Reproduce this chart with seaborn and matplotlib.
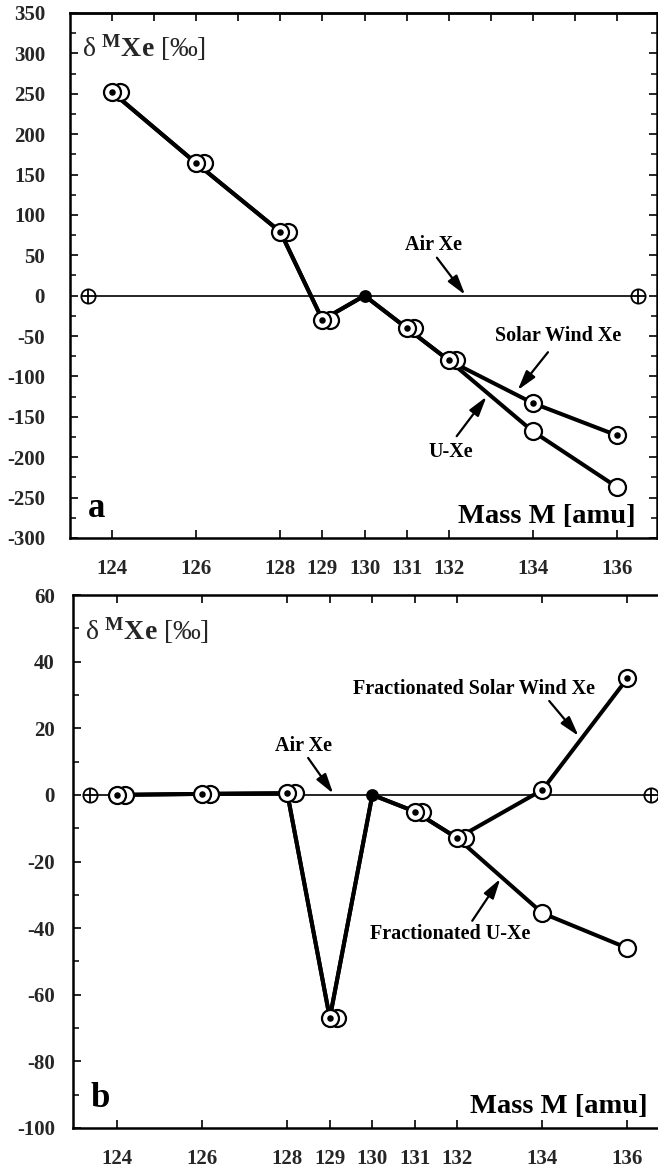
import numpy as np
import matplotlib
matplotlib.use("Agg")
import matplotlib.pyplot as plt
import seaborn as sns

# Xe isotope masses (amu)
mass = [124, 126, 128, 129, 130, 131, 132, 134, 136]
mass_labels = ["124", "126", "128", "129", "130", "131", "132", "134", "136"]
ref_mass = 130

# Panel a: delta-values relative to air Xe (permil)
sw_a = [252, 164, 79, -30, 0, -40, -80, -133, -173]
u_a = [252, 164, 79, -30, 0, -40, -80, -168, -237]

# Panel b: after mass fractionation
sw_b = [0, 0.3, 0.5, -67, 0, -5, -13, 1.5, 35]
u_b = [0, 0.3, 0.5, -67, 0, -5, -13, -35.5, -46]

# Air Xe reference line end points
air_a_mass = [123.43, 136.5]
air_b_mass = [123.36, 136.55]
air_val = [0, 0]

sns.set_theme(style="ticks")
plt.rcParams["font.family"] = ["Liberation Serif", "DejaVu Serif"]
plt.rcParams["mathtext.fontset"] = "custom"
plt.rcParams["mathtext.rm"] = "Liberation Serif"
plt.rcParams["mathtext.bf"] = "Liberation Serif:bold"
plt.rcParams["mathtext.it"] = "Liberation Serif:italic"

fig = plt.figure(figsize=(6.58, 11.68), dpi=100)
fig.patch.set_facecolor("white")
ax_a = fig.add_axes([0.1064, 0.5394, 0.892, 0.4495])
ax_b = fig.add_axes([0.1109, 0.03425, 0.9073, 0.4563])

BOLD = dict(fontweight="bold", color="black")
ARROW = dict(arrowstyle="-|>,head_length=0.7,head_width=0.2", color="black",
             lw=1.6, mutation_scale=17, shrinkA=0, shrinkB=0)


def draw_panel(ax, sw, u, air_mass, xlim, ylim, ymajor, yminor, ypad, panel,
               notes, right_ticks, top_all):
    m = np.array(mass, dtype=float)
    sw = np.array(sw, dtype=float)
    u = np.array(u, dtype=float)

    # air reference line and its crossed-circle end markers
    sns.lineplot(x=air_mass, y=air_val, color="black", linewidth=1.2,
                 ax=ax, zorder=1)
    sns.scatterplot(x=air_mass, y=air_val, s=105, color="white",
                    edgecolor="black", linewidth=1.3, ax=ax, zorder=6)
    sns.scatterplot(x=air_mass, y=air_val, s=105, marker="+", color="black",
                    linewidth=1.3, ax=ax, zorder=7)

    # composition lines
    sns.lineplot(x=m, y=u, sort=False, estimator=None, color="black",
                 linewidth=2.9, ax=ax, zorder=2)
    sns.lineplot(x=m, y=sw, sort=False, estimator=None, color="black",
                 linewidth=2.9, ax=ax, zorder=2)

    not_ref = m != ref_mass
    same = np.isclose(sw, u) & not_ref
    u_x = np.where(same, m + 0.18, m)

    # U-Xe: open circles (behind when coincident)
    sns.scatterplot(x=u_x[not_ref], y=u[not_ref], s=150, color="white",
                    edgecolor="black", linewidth=1.6, ax=ax, zorder=3)
    # Solar wind Xe: dotted circles
    sns.scatterplot(x=m[not_ref], y=sw[not_ref], s=150, color="white",
                    edgecolor="black", linewidth=1.6, ax=ax, zorder=4)
    sns.scatterplot(x=m[not_ref], y=sw[not_ref], s=22, color="black",
                    edgecolor="black", linewidth=0, ax=ax, zorder=5)
    # reference isotope
    sns.scatterplot(x=m[~not_ref], y=sw[~not_ref], s=85, color="black",
                    edgecolor="black", linewidth=0, ax=ax, zorder=5)

    ax.set_xlim(*xlim)
    ax.set_ylim(*ylim)
    ax.set_xlabel("")
    ax.set_ylabel("")
    ax.set_xticks(mass)
    ax.set_xticklabels(mass_labels)
    ax.set_yticks(ymajor)
    ax.set_yticklabels([f"{v:d}" for v in ymajor])
    ax.set_yticks(yminor, minor=True)
    ax.tick_params(axis="x", which="major", direction="in", length=6,
                   width=1.4, pad=15, labelsize=15, top=not top_all,
                   bottom=True)
    ax.tick_params(axis="y", which="major", direction="in", length=6,
                   width=1.4, pad=ypad, labelsize=15, right=right_ticks)
    ax.tick_params(axis="y", which="minor", direction="in", length=4,
                   width=1.3, right=right_ticks)
    for lab in ax.get_xticklabels() + ax.get_yticklabels():
        lab.set_fontweight("bold")
    if top_all:
        sec = ax.secondary_xaxis("top")
        sec.set_xticks(np.arange(124, 137))
        sec.set_xticklabels([])
        sec.tick_params(direction="in", length=6, width=1.4)
        sec.spines["top"].set_linewidth(1.8)
    for sp in ax.spines.values():
        sp.set_linewidth(1.8)
        sp.set_visible(True)
        sp.set_color("black")
    ax.grid(False)
    ax.set_facecolor("white")

    ax.text(0.02, 0.916, r"$\mathrm{δ}\ ^{\mathbf{M}}\mathbf{Xe}\ \mathrm{[‰]}$",
            transform=ax.transAxes, fontsize=20, ha="left", va="baseline")
    ax.text(0.963, 0.028, "Mass M [amu]", transform=ax.transAxes,
            fontsize=20.5, ha="right", va="baseline", **BOLD)
    ax.text(0.03, 0.04, panel, transform=ax.transAxes, fontsize=25,
            ha="left", va="baseline", **BOLD)

    for text, txy, tail, head in notes:
        ax.text(txy[0], txy[1], text, fontsize=14.5, ha="center",
                va="center", **BOLD)
        ax.annotate("", xy=head, xytext=tail, arrowprops=ARROW, zorder=8)


notes_a = [
    ("Air Xe", (131.63, 63), (131.72, 47), (132.39, 1)),
    ("Solar Wind Xe", (134.59, -50), (134.36, -70), (133.64, -117)),
    ("U-Xe", (132.05, -194), (132.19, -174), (132.9, -125)),
]
notes_b = [
    ("Air Xe", (128.38, 14.7), (128.49, 11.1), (129.08, 0.4)),
    ("Fractionated Solar Wind Xe", (132.38, 31.8), (134.16, 28.2), (134.85, 17.7)),
    ("Fractionated U-Xe", (131.84, -41.7), (132.35, -37.8), (133.01, -25.2)),
]

draw_panel(ax_a, sw_a, u_a, air_a_mass, (123.0, 136.95), (-300, 350),
           list(range(-300, 351, 50)), list(range(-275, 350, 50)), 18, "a",
           notes_a, right_ticks=True, top_all=True)
draw_panel(ax_b, sw_b, u_b, air_b_mass, (122.96, 137.0), (-100, 60),
           list(range(-100, 61, 20)), list(range(-90, 60, 20)), 13, "b",
           notes_b, right_ticks=False, top_all=False)
ax_b.tick_params(axis="x", which="major", top=True)

fig.savefig("out.png", dpi=100, facecolor="white")
